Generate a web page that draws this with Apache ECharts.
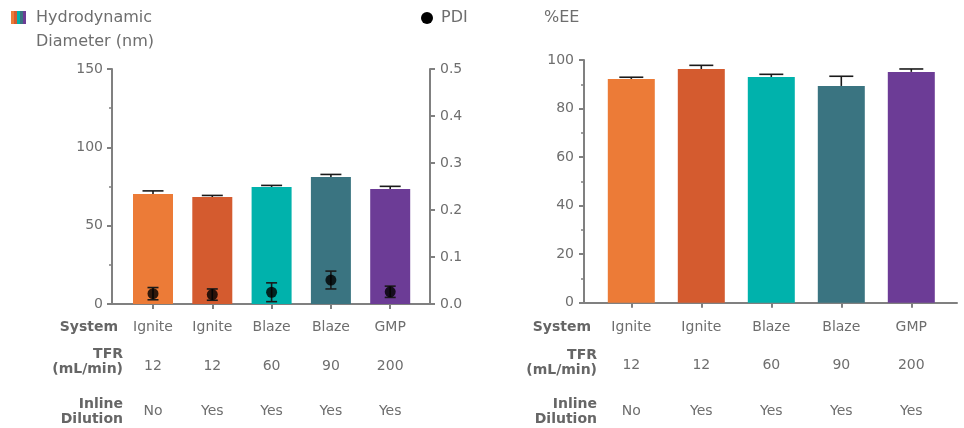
<!DOCTYPE html>
<html><head><meta charset="utf-8">
<script src="https://cdn.jsdelivr.net/npm/echarts@6/dist/echarts.min.js"></script>
<style>html,body{margin:0;padding:0;background:#fff}#c{width:964px;height:428px}</style>
</head><body><div id="c"></div>
<script>
// ---- data ----
const systems = ['Ignite', 'Ignite', 'Blaze', 'Blaze', 'GMP'];
const tfr = ['12', '12', '60', '90', '200'];
const inlineDilution = ['No', 'Yes', 'Yes', 'Yes', 'Yes'];
const rowHeaders = ['System', 'TFR\n(mL/min)', 'Inline\nDilution'];
const diameter = [70.2, 68.3, 74.7, 81.0, 73.4];
const diameterErr = [2.0, 1.0, 1.0, 1.7, 1.7];
const pdi = [0.022, 0.020, 0.025, 0.051, 0.026];
const pdiErr = [0.013, 0.012, 0.020, 0.019, 0.012];
const ee = [92.2, 96.3, 93.0, 89.3, 95.1];
const eeErr = [0.7, 1.5, 1.1, 4.0, 1.2];
const barColors = ['#EC7B37', '#D45B2F', '#00B2AC', '#3A7481', '#6C3C96'];

const FONT = 'DejaVu Sans';
const AX = '#808080';
const TXT = '#6E6E6E';
const HDR = '#666666';

function errRender(cap, both) {
  return function (params, api) {
    const i = api.value(0), v = api.value(1), e = api.value(2);
    const top = api.coord([i, v + e]);
    const base = api.coord([i, both ? v - e : v]);
    const style = { stroke: '#1a1a1a', lineWidth: 1.6 };
    const ch = [
      { type: 'line', shape: { x1: top[0], y1: top[1], x2: base[0], y2: base[1] }, style },
      { type: 'line', shape: { x1: top[0] - cap / 2, y1: top[1], x2: top[0] + cap / 2, y2: top[1] }, style }
    ];
    if (both) ch.push({ type: 'line', shape: { x1: base[0] - cap / 2, y1: base[1], x2: base[0] + cap / 2, y2: base[1] }, style });
    return { type: 'group', children: ch };
  };
}
function errData(vals, errs) { return vals.map((v, i) => [i, v, errs[i]]); }
function barData(vals) { return vals.map((v, i) => ({ value: v, itemStyle: { color: barColors[i] } })); }

function frameX(grid) {
  return { gridIndex: grid, type: 'value', position: 'bottom', min: 0, max: 1,
    axisLine: { show: true, lineStyle: { color: AX, width: 2 } },
    axisTick: { show: false }, axisLabel: { show: false }, splitLine: { show: false } };
}
function tickX(grid) {
  return { gridIndex: grid, type: 'category', position: 'bottom', data: systems,
    axisLine: { show: false },
    axisTick: { show: true, alignWithLabel: true, length: 5, lineStyle: { color: AX, width: 2 } },
    axisLabel: { show: false }, splitLine: { show: false } };
}
function rowX(grid, data, offset) {
  return { gridIndex: grid, type: 'category', position: 'bottom', data: data, offset: offset,
    axisLine: { show: false }, axisTick: { show: false },
    axisLabel: { interval: 0, margin: 0, verticalAlign: 'middle', fontFamily: FONT, fontSize: 14, color: TXT } };
}
function valY(grid, pos, min, max, interval, minor, margin, fmt) {
  return { gridIndex: grid, type: 'value', position: pos, min, max, interval,
    axisLine: { show: true, lineStyle: { color: AX, width: 2 } },
    axisTick: { show: true, length: 5, lineStyle: { color: AX, width: 2 } },
    minorTick: { show: minor, splitNumber: 2, length: 3, lineStyle: { color: AX, width: 1.5 } },
    splitLine: { show: false },
    axisLabel: { margin, fontFamily: FONT, fontSize: 14, color: TXT, formatter: fmt } };
}
function hidY(grid, min, max) { return { gridIndex: grid, type: 'value', min, max, show: false, splitLine: { show: false } }; }
function header(text, x, y) {
  return { type: 'text', x: x, y: y, style: { text: text, fontFamily: FONT, fontSize: 14, fontWeight: 'bold',
    lineHeight: 15, fill: HDR, align: 'right', verticalAlign: 'middle' } };
}

const option = {
  animation: false,
  backgroundColor: '#fff',
  grid: [
    { left: 112, top: 69, width: 318, height: 235 },
    { left: 123.35, top: 69, width: 296.5, height: 235 },
    { left: 584, top: 60, width: 373, height: 242.7 },
    { left: 596.3, top: 60, width: 350, height: 242.7 }
  ],
  xAxis: [
    frameX(0), tickX(1),
    rowX(1, systems, 23),
    rowX(1, tfr, 62.7),
    rowX(1, inlineDilution, 107.7),
    frameX(2), tickX(3),
    rowX(3, systems, 24.6),
    rowX(3, tfr, 62.3),
    rowX(3, inlineDilution, 109)
  ],
  yAxis: [
    valY(0, 'left', 0, 150, 50, true, 9, null),
    valY(0, 'right', 0, 0.5, 0.1, false, 10, v => v.toFixed(1)),
    hidY(1, 0, 150),
    hidY(1, 0, 0.5),
    valY(2, 'left', 0, 100, 20, true, 10, null),
    hidY(3, 0, 100)
  ],
  series: [
    { type: 'bar', xAxisIndex: 1, yAxisIndex: 2, barWidth: 40, data: barData(diameter), z: 2 },
    { type: 'custom', xAxisIndex: 1, yAxisIndex: 2, renderItem: errRender(21, false), data: errData(diameter, diameterErr), z: 3 },
    { type: 'custom', xAxisIndex: 1, yAxisIndex: 3, renderItem: errRender(11, true), data: errData(pdi, pdiErr), z: 4 },
    { type: 'scatter', xAxisIndex: 1, yAxisIndex: 3, symbol: 'circle', symbolSize: 11, itemStyle: { color: '#000' }, data: pdi, z: 5 },
    { type: 'bar', xAxisIndex: 6, yAxisIndex: 5, barWidth: 47, data: barData(ee), z: 2 },
    { type: 'custom', xAxisIndex: 6, yAxisIndex: 5, renderItem: errRender(24, false), data: errData(ee, eeErr), z: 3 }
  ],
  graphic: [
    ...barColors.map((c, i) => ({ type: 'rect', shape: { x: 11 + i * 3, y: 11, width: 3, height: 13 }, style: { fill: c } })),
    { type: 'text', left: 36, top: 6, style: { text: 'Hydrodynamic\nDiameter (nm)', fontFamily: FONT, fontSize: 16, lineHeight: 24, fill: TXT } },
    { type: 'circle', shape: { cx: 427, cy: 18, r: 6 }, style: { fill: '#000' } },
    { type: 'text', left: 441, top: 6, style: { text: 'PDI', fontFamily: FONT, fontSize: 16, lineHeight: 24, fill: TXT } },
    { type: 'text', left: 544, top: 6, style: { text: '%EE', fontFamily: FONT, fontSize: 16, lineHeight: 24, fill: TXT } },
    header(rowHeaders[0], 118, 327),
    header(rowHeaders[1], 123, 361.7),
    header(rowHeaders[2], 123, 411.5),
    header(rowHeaders[0], 591, 327.3),
    header(rowHeaders[1], 597, 362.8),
    header(rowHeaders[2], 597, 412)
  ]
};
const chart = echarts.init(document.getElementById('c'), null, { renderer: 'canvas' });
chart.setOption(option);
</script>
</body></html>
